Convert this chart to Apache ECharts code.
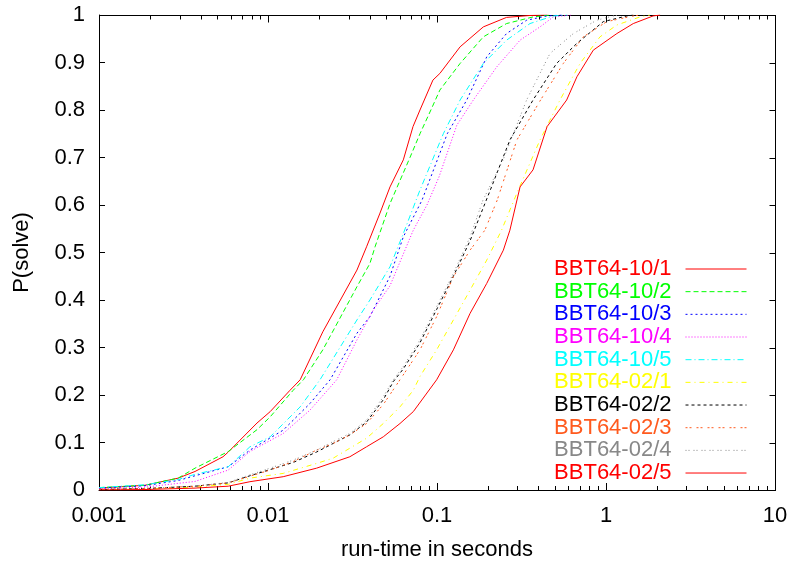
<!DOCTYPE html>
<html lang="en">
<head>
    <meta charset="UTF-8">
    <title>P(solve) vs run-time</title>
    <script src="https://cdn.jsdelivr.net/npm/echarts@6.0.0/dist/echarts.min.js"></script>
    <style>
        body { margin: 0; background: #fff; }
    </style>
</head>
<body>
    <div id="main" style="width: 788px;height:561px;"></div>
    <script type="text/javascript">
        // [run-time in seconds, P(solve)]
        const bbt10_1 = [[0.001,0.004],[0.00187,0.01],[0.00294,0.025],[0.0037,0.039],[0.00542,0.07],[0.00582,0.08],[0.00861,0.141],[0.0103,0.165],[0.0135,0.21],[0.0155,0.232],[0.0211,0.333],[0.0336,0.463],[0.0383,0.512],[0.046,0.583],[0.0527,0.638],[0.0632,0.695],[0.0721,0.765],[0.0793,0.8],[0.0946,0.863],[0.104,0.877],[0.137,0.933],[0.188,0.975],[0.258,0.995],[0.355,0.999],[0.45,1]];
        const bbt10_2 = [[0.001,0.005],[0.00187,0.01],[0.00294,0.025],[0.0037,0.046],[0.00582,0.081],[0.00861,0.127],[0.0103,0.154],[0.0141,0.21],[0.0162,0.232],[0.0211,0.295],[0.0336,0.428],[0.0401,0.477],[0.043,0.512],[0.0527,0.603],[0.0692,0.7],[0.0793,0.75],[0.092,0.8],[0.104,0.842],[0.137,0.898],[0.188,0.954],[0.258,0.982],[0.371,0.996],[0.47,1]];
        const bbt10_3 = [[0.001,0.004],[0.00187,0.009],[0.00294,0.02],[0.0037,0.03],[0.00582,0.049],[0.00782,0.084],[0.0123,0.126],[0.0177,0.182],[0.0233,0.232],[0.0336,0.33],[0.0401,0.365],[0.0527,0.45],[0.0632,0.533],[0.0815,0.61],[0.115,0.75],[0.15,0.821],[0.197,0.912],[0.258,0.961],[0.339,0.989],[0.446,0.998],[0.55,1]];
        const bbt10_4 = [[0.001,0.002],[0.00187,0.006],[0.00294,0.014],[0.0037,0.018],[0.00582,0.042],[0.00782,0.081],[0.0123,0.119],[0.0177,0.168],[0.0255,0.232],[0.0336,0.316],[0.042,0.379],[0.0527,0.43],[0.0724,0.547],[0.0872,0.6],[0.103,0.66],[0.131,0.768],[0.164,0.821],[0.226,0.891],[0.31,0.947],[0.407,0.975],[0.488,0.996],[0.62,1]];
        const bbt10_5 = [[0.001,0.005],[0.00187,0.011],[0.00294,0.022],[0.0037,0.033],[0.00582,0.049],[0.00782,0.091],[0.0103,0.112],[0.0155,0.175],[0.0203,0.232],[0.0336,0.358],[0.0401,0.4],[0.0527,0.47],[0.0632,0.54],[0.079,0.63],[0.109,0.75],[0.137,0.821],[0.188,0.898],[0.258,0.947],[0.355,0.982],[0.488,0.998],[0.59,1]];
        const bbt02_1 = [[0.001,0.001],[0.00187,0.002],[0.0037,0.006],[0.00582,0.012],[0.00782,0.025],[0.0123,0.035],[0.0194,0.056],[0.0243,0.067],[0.0305,0.088],[0.0383,0.109],[0.0481,0.14],[0.0604,0.175],[0.0724,0.21],[0.0793,0.239],[0.0995,0.295],[0.125,0.358],[0.157,0.421],[0.197,0.484],[0.241,0.547],[0.297,0.625],[0.407,0.737],[0.534,0.821],[0.702,0.898],[0.921,0.954],[1.16,0.979],[1.59,0.996],[1.82,1]];
        const bbt02_2 = [[0.001,0.001],[0.00187,0.003],[0.0037,0.008],[0.00582,0.015],[0.00782,0.03],[0.0103,0.043],[0.0141,0.058],[0.0194,0.08],[0.0243,0.098],[0.0305,0.116],[0.0383,0.143],[0.0481,0.19],[0.0551,0.228],[0.0632,0.255],[0.0793,0.31],[0.0995,0.38],[0.125,0.45],[0.157,0.525],[0.206,0.63],[0.27,0.737],[0.37,0.821],[0.51,0.898],[0.671,0.94],[0.964,0.986],[1.33,0.998],[1.45,1]];
        const bbt02_3 = [[0.001,0.001],[0.00187,0.003],[0.0037,0.008],[0.00582,0.015],[0.00782,0.029],[0.0103,0.042],[0.0141,0.06],[0.0194,0.084],[0.0243,0.098],[0.0305,0.116],[0.0383,0.14],[0.0481,0.18],[0.0625,0.24],[0.0793,0.295],[0.0995,0.365],[0.125,0.449],[0.157,0.505],[0.192,0.547],[0.227,0.61],[0.297,0.737],[0.41,0.821],[0.559,0.898],[0.734,0.954],[1.01,0.986],[1.45,0.998],[1.6,1]];
        const bbt02_4 = [[0.001,0.001],[0.00187,0.003],[0.0037,0.008],[0.00582,0.016],[0.00782,0.032],[0.0103,0.046],[0.0141,0.063],[0.0194,0.084],[0.0243,0.102],[0.0305,0.119],[0.0383,0.147],[0.0481,0.196],[0.0551,0.232],[0.0632,0.26],[0.0793,0.316],[0.0995,0.386],[0.125,0.456],[0.157,0.533],[0.187,0.61],[0.246,0.695],[0.339,0.821],[0.466,0.919],[0.641,0.961],[0.881,0.989],[1.1,0.998],[1.21,1]];
        const bbt02_5 = [[0.001,0],[0.00187,0.001],[0.0037,0.004],[0.00582,0.008],[0.00782,0.0175],[0.0123,0.028],[0.0194,0.046],[0.0305,0.07],[0.0383,0.091],[0.0481,0.112],[0.0604,0.14],[0.0724,0.165],[0.0995,0.232],[0.125,0.295],[0.157,0.372],[0.197,0.435],[0.247,0.505],[0.27,0.547],[0.31,0.638],[0.37,0.674],[0.448,0.765],[0.585,0.821],[0.673,0.87],[0.841,0.926],[1.16,0.961],[1.45,0.982],[1.9,0.998],[2.09,1]];

        const seriesNames = ['BBT64-10/1', 'BBT64-10/2', 'BBT64-10/3', 'BBT64-10/4', 'BBT64-10/5',
                             'BBT64-02/1', 'BBT64-02/2', 'BBT64-02/3', 'BBT64-02/4', 'BBT64-02/5'];
        const seriesData = [bbt10_1, bbt10_2, bbt10_3, bbt10_4, bbt10_5, bbt02_1, bbt02_2, bbt02_3, bbt02_4, bbt02_5];
        const xDecades = [0.001, 0.01, 0.1, 1, 10];
        const yTicks = [0, 0.1, 0.2, 0.3, 0.4, 0.5, 0.6, 0.7, 0.8, 0.9, 1];

        // gnuplot-ish line colours and dash patterns
        const colors = ['#ff0000', '#00ff00', '#0000ff', '#ff00ff', '#00ffff',
                        '#ffff00', '#000000', '#ff5a1e', '#888888', '#ff0000'];
        const dashes = ['solid', [5, 3], [2, 3], [1, 2], [6, 3, 1, 3],
                        [5, 4, 1, 4], [3, 3], [2, 2, 2, 5], [1, 2, 1, 4], 'solid'];

        // minor ticks 2..9 inside each decade
        const minorTicks = [];
        xDecades.slice(0, -1).forEach((d) => {
            for (let k = 2; k < 10; k++) minorTicks.push(+(d * k).toPrecision(3));
        });

        const font = 'Liberation Sans, Arial, sans-serif';
        const black = '#000';
        const box = { left: 99, right: 13, top: 15, bottom: 71, outerBoundsMode: 'none', containLabel: false };

        let options = {
            animation: false,
            // grid 1 only carries the bottom minor ticks
            grid: [Object.assign({}, box), Object.assign({}, box)],
            xAxis: [
                {
                    type: 'log', logBase: 10, min: 0.001, max: 10, gridIndex: 0, position: 'bottom',
                    axisLine: { show: true, onZero: false, lineStyle: { color: black, width: 1 } },
                    axisTick: { inside: true, length: 7, lineStyle: { color: black } },
                    axisLabel: {
                        margin: 15, fontSize: 22, color: black, fontFamily: font,
                        formatter: (v) => String(+(+v).toPrecision(6))
                    },
                    splitLine: { show: false },
                    name: 'run-time in seconds', nameLocation: 'middle', nameGap: 49,
                    nameTextStyle: { fontSize: 22, color: black, fontFamily: font }
                },
                {
                    type: 'log', logBase: 10, min: 0.001, max: 10, gridIndex: 1, position: 'bottom',
                    axisLine: { show: false, onZero: false },
                    axisTick: { inside: true, length: 4, customValues: minorTicks.slice(), lineStyle: { color: black } },
                    axisLabel: { show: false },
                    splitLine: { show: false }
                }
            ],
            yAxis: [
                {
                    type: 'value', min: 0, max: 1, interval: 0.1, gridIndex: 0, position: 'left',
                    axisLine: { show: true, onZero: false, lineStyle: { color: black, width: 1 } },
                    axisTick: { inside: true, length: 6, lineStyle: { color: black } },
                    axisLabel: { margin: 14, fontSize: 22, color: black, fontFamily: font },
                    splitLine: { show: false },
                    name: 'P(solve)', nameLocation: 'middle', nameGap: 66, nameRotate: 90,
                    nameTextStyle: { fontSize: 22, color: black, fontFamily: font }
                },
                { type: 'value', min: 0, max: 1, gridIndex: 1, show: false }
            ],
            legend: {
                orient: 'vertical', right: 41, top: 258, align: 'right', padding: 0,
                itemWidth: 61, itemHeight: 10, itemGap: 0.67, selectedMode: false,
                itemStyle: { opacity: 0, borderWidth: 0 },
                lineStyle: { width: 1 },
                textStyle: { fontFamily: font, fontSize: 22, lineHeight: 20, padding: [0, 9, 0, 0] },
                data: seriesNames.map((n, i) => ({ name: n, textStyle: { color: colors[i] } }))
            },
            series: seriesNames.map((n, i) => ({
                name: n,
                type: 'line',
                xAxisIndex: 0,
                yAxisIndex: 0,
                data: seriesData[i],
                symbol: 'none',
                showSymbol: false,
                silent: true,
                itemStyle: { color: colors[i] },
                lineStyle: { color: colors[i], width: 1, type: dashes[i] }
            }))
        };

        let myChart = echarts.init(document.getElementById('main'));
        myChart.setOption(options);

        // top and right border with mirrored ticks, placed through the chart's own axes
        const toX = (v) => myChart.convertToPixel({ xAxisIndex: 0 }, v);
        const toY = (v) => myChart.convertToPixel({ yAxisIndex: 0 }, v);
        const crisp = (p) => Math.round(p) + 0.5;
        const seg = (x1, y1, x2, y2) => ({
            type: 'line', silent: true,
            shape: { x1: x1, y1: y1, x2: x2, y2: y2 },
            style: { stroke: black, lineWidth: 1 }
        });
        const xL = crisp(toX(0.001)), xR = crisp(toX(10));
        const yT = crisp(toY(1)), yB = crisp(toY(0));
        const frame = [seg(xL - 0.5, yT, xR + 0.5, yT), seg(xR, yT, xR, yB + 0.5)];
        xDecades.forEach((v) => { const x = crisp(toX(v)); frame.push(seg(x, yT, x, yT + 7)); });
        minorTicks.forEach((v) => { const x = crisp(toX(v)); frame.push(seg(x, yT, x, yT + 4)); });
        yTicks.forEach((v) => { const y = crisp(toY(v)); frame.push(seg(xR, y, xR - 6, y)); });
        myChart.setOption({ graphic: { elements: frame } });
    </script>
</body>
</html>
